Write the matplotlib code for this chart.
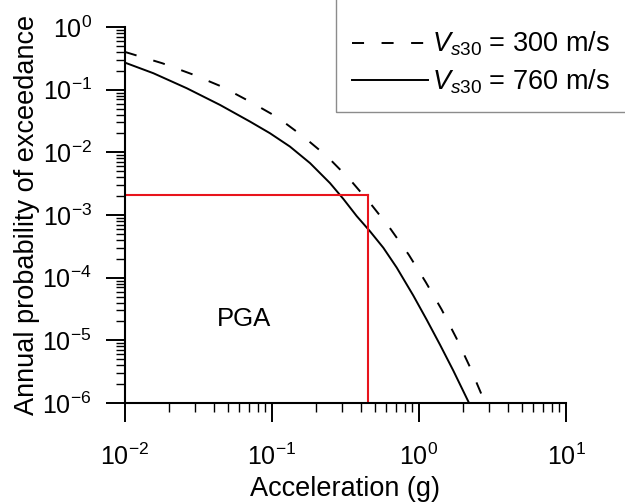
import matplotlib
matplotlib.use("Agg")
import matplotlib.pyplot as plt
from matplotlib.patches import Rectangle

# hazard curves (acceleration in g, annual probability)
ACC_760 = [0.01, 0.0156, 0.0263, 0.0443, 0.0708, 0.0968, 0.1324, 0.1815, 0.248,
           0.306, 0.377, 0.464, 0.572, 0.705, 0.914, 1.127, 1.39, 1.71, 2.19]
APE_760 = [0.27, 0.183, 0.1055, 0.0571, 0.031, 0.0202, 0.01237, 6.73e-3, 3.23e-3,
           1.8e-3, 9.6e-4, 5.5e-4, 3.0e-4, 1.45e-4, 5.2e-5, 2.14e-5, 8.5e-6,
           3.3e-6, 1.0e-6]
ACC_300 = [0.01, 0.01795, 0.0287, 0.0455, 0.0708, 0.1086, 0.1633, 0.2377,
           0.340, 0.469, 0.641, 0.851, 1.11, 1.427, 1.794, 2.213, 2.70, 2.82]
APE_300 = [0.40, 0.264, 0.176, 0.112, 0.0645, 0.0364, 0.01786, 8.57e-3,
           3.65e-3, 1.51e-3, 5.97e-4, 2.33e-4, 8.53e-5, 3.09e-5, 1.09e-5, 3.82e-6,
           1.27e-6, 1.0e-6]

TARGET_APE = 2.1e-3
TARGET_PGA = 0.45
X_LIM = (1e-2, 1e1)
Y_LIM = (1e-6, 1e0)

plt.rcParams.update(
    {
        "font.family": "Liberation Sans",
        "mathtext.fontset": "custom",
        "mathtext.rm": "Liberation Sans",
        "mathtext.it": "Liberation Sans:italic",
        "mathtext.bf": "Liberation Sans:bold",
        "axes.unicode_minus": False,
    }
)

fig = plt.figure(figsize=(6.25, 5.04), dpi=100)
ax = fig.add_axes([0.2, 0.2004, 0.7056, 0.746])

ax.plot(ACC_300, APE_300, color="black", lw=1.4, ls=(0, (6.2, 9.0)),
        label=r"$V_{\mathit{s30}}$ = 300 m/s")
ax.plot(ACC_760, APE_760, color="black", lw=1.4,
        label=r"$V_{\mathit{s30}}$ = 760 m/s")
ax.plot([X_LIM[0], TARGET_PGA], [TARGET_APE, TARGET_APE], color="#e8141c", lw=1.5)
ax.plot([TARGET_PGA, TARGET_PGA], [Y_LIM[0], TARGET_APE], color="#e8141c", lw=1.5)

ax.set_xscale("log")
ax.set_yscale("log")
ax.set_xlim(*X_LIM)
ax.set_ylim(*Y_LIM)

for side in ("top", "right"):
    ax.spines[side].set_visible(False)
for side in ("left", "bottom"):
    ax.spines[side].set_linewidth(1.5)

ax.tick_params(which="major", direction="out", length=14, width=1.4, labelsize=18)
ax.tick_params(which="minor", direction="out", length=6.5, width=1.0)
ax.tick_params(axis="x", which="major", pad=15)
ax.tick_params(axis="y", which="major", pad=10)

ax.text(0.065, 2.2e-5, "PGA", fontsize=18.5, ha="center", va="center")

ax.set_xlabel("Acceleration (g)", fontsize=19.5)
ax.set_ylabel("Annual probability of exceedance", fontsize=19.5)
ax.xaxis.set_label_coords(0.5, -0.195)
ax.yaxis.set_label_coords(-0.193, 0.5)

# legend box runs off the top and right edge of the figure, as in the source
fig.patches.append(
    Rectangle((336 / 625, 1 - 112 / 504), 0.6, 0.4, transform=fig.transFigure,
              fill=False, edgecolor="#8c8c8c", linewidth=1.0)
)
ax.legend(
    loc="upper left",
    bbox_to_anchor=(352 / 625, 1 - 30 / 504),
    bbox_transform=fig.transFigure,
    fontsize=19.5,
    frameon=False,
    handlelength=2.8,
    handletextpad=0.15,
    borderpad=0,
    labelspacing=0.34,
    borderaxespad=0,
)

fig.savefig("out.png", dpi=100)
